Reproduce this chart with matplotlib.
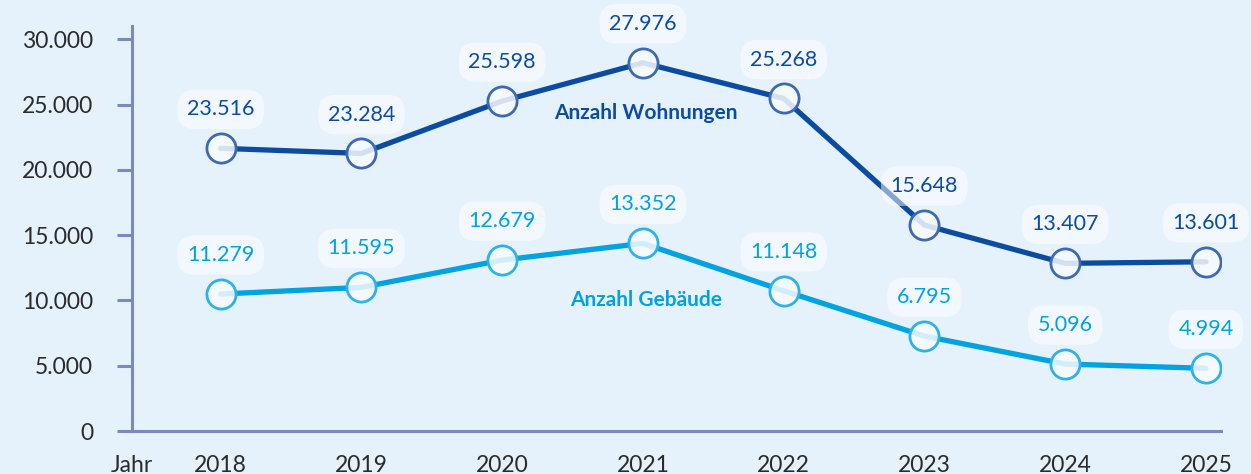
import matplotlib
matplotlib.use("Agg")
import matplotlib.pyplot as plt

# data: marker heights, labels as printed
years = [2018, 2019, 2020, 2021, 2022, 2023, 2024, 2025]
wohnungen = [21650, 21260, 25270, 28200, 25470, 15770, 12840, 12960]
gebaeude = [10490, 11000, 13090, 14370, 10740, 7270, 5130, 4800]
wohnungen_labels = ["23.516", "23.284", "25.598", "27.976", "25.268", "15.648", "13.407", "13.601"]
gebaeude_labels = ["11.279", "11.595", "12.679", "13.352", "11.148", "6.795", "5.096", "4.994"]
yticks = [0, 5000, 10000, 15000, 20000, 25000, 30000]
ytick_labels = ["0", "5.000", "10.000", "15.000", "20.000", "25.000", "30.000"]

BG = "#e5f1fb"
AXIS = "#7b89c1"
TXT = "#2b2b2b"
DARK, DARK_EDGE = "#0b4ca1", "#3d69b2"
LIGHT, LIGHT_EDGE = "#00a3df", "#2db2e8"

plt.rcParams["font.family"] = ["Lato", "DejaVu Sans"]

W, H = 1251, 474
fig = plt.figure(figsize=(W / 100, H / 100), dpi=100, facecolor=BG)
ax = fig.add_axes([132 / W, (H - 431) / H, (1221 - 132) / W, (431 - 26) / H])
ax.set_facecolor(BG)

ax.set_xlim(2017.37, 2025.107)
ax.set_ylim(0, 31018)

for s in ["top", "right"]:
    ax.spines[s].set_visible(False)
for s in ["left", "bottom"]:
    ax.spines[s].set_color(AXIS)
    ax.spines[s].set_linewidth(2.2)

ax.set_yticks(yticks)
ax.set_yticklabels(ytick_labels)
ax.tick_params(axis="y", length=11, width=2.2, color=AXIS, pad=17,
               labelsize=16.5, labelcolor=TXT)
ax.set_xticks(years)
ax.set_xticklabels([str(y) for y in years])
ax.tick_params(axis="x", length=0, pad=17, labelsize=16.5, labelcolor=TXT)
ax.annotate("Jahr", (0, 0), xycoords="axes fraction", xytext=(0, -17),
            textcoords="offset points", ha="center", va="top",
            fontsize=16.5, color=TXT)

box = dict(boxstyle="round,pad=0.45,rounding_size=0.8", fc="white", ec="none", alpha=0.5)


def draw_series(vals, labels, color, edge):
    ax.plot(years, vals, color=color, lw=3.8, solid_capstyle="round", zorder=3,
            marker="o", ms=21, mfc=(0.97, 0.985, 1.0, 0.85), mec=edge, mew=2.0)
    for x, v, lab in zip(years, vals, labels):
        ax.annotate(lab, (x, v), xytext=(0, 28), textcoords="offset points",
                    ha="center", va="center", fontsize=15.5, color=color,
                    bbox=box, zorder=4)


draw_series(wohnungen, wohnungen_labels, DARK, DARK_EDGE)
draw_series(gebaeude, gebaeude_labels, LIGHT, LIGHT_EDGE)

ax.text(2021.02, 24350, "Anzahl Wohnungen", ha="center", va="center",
        fontsize=15, fontweight="bold", color=DARK, zorder=5)
ax.text(2021.02, 10050, "Anzahl Gebäude", ha="center", va="center",
        fontsize=15, fontweight="bold", color=LIGHT, zorder=5)

fig.savefig("out.png", dpi=100, facecolor=BG)
